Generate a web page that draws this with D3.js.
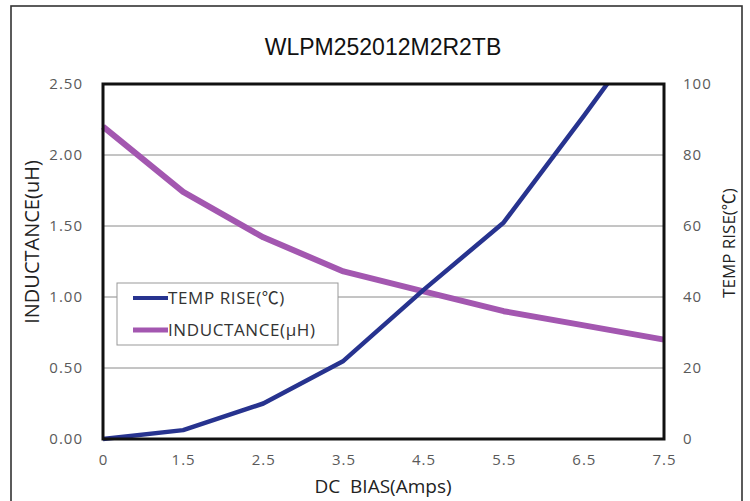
<!DOCTYPE html>
<html>
<head>
<meta charset="utf-8">
<script src="https://cdn.jsdelivr.net/npm/d3@7"></script>
<style>
  html, body { margin: 0; padding: 0; background: #fff; }
  svg { display: block; }
</style>
</head>
<body>
<svg id="chart" width="750" height="501"></svg>
<script>
// DC bias categories (Amps)
const biasLabels = ["0", "1.5", "2.5", "3.5", "4.5", "5.5", "6.5", "7.5"];
// Inductance (uH) at each bias point
const inductance = [2.20, 1.74, 1.42, 1.18, 1.04, 0.90, 0.80, 0.70];
// Temperature rise (°C) at each bias point
const tempRise = [0, 2.5, 10, 22, 42, 61, 91, 122];
// Axis tick values
const leftTicks = [0, 0.5, 1.0, 1.5, 2.0, 2.5];
const rightTicks = [0, 20, 40, 60, 80, 100];

const BODY_FONT = "'Open Sans', 'Noto Sans CJK SC', sans-serif";
const TITLE_FONT = "'Liberation Sans', Arial, sans-serif";

const svg = d3.select("#chart");
const plot = { left: 103, right: 664, top: 84, bottom: 439 };

// Outer frame
svg.append("rect")
  .attr("x", 11).attr("y", 6).attr("width", 731).attr("height", 510)
  .attr("fill", "none").attr("stroke", "#333").attr("stroke-width", 1.6);

// Title
svg.append("text")
  .attr("x", 383).attr("y", 55).attr("text-anchor", "middle")
  .style("font-family", TITLE_FONT).style("font-size", "23px")
  .attr("fill", "#111")
  .text("WLPM252012M2R2TB");

const x = d3.scalePoint().domain(biasLabels).range([plot.left, plot.right]).padding(0);
const yL = d3.scaleLinear().domain([0, 2.5]).range([plot.bottom, plot.top]);
const yR = d3.scaleLinear().domain([0, 100]).range([plot.bottom, plot.top]);

// Horizontal gridlines
svg.append("g")
  .selectAll("line")
  .data(leftTicks.filter(d => d > 0 && d < 2.5))
  .join("line")
  .attr("x1", plot.left).attr("x2", plot.right)
  .attr("y1", d => yL(d)).attr("y2", d => yL(d))
  .attr("stroke", "#8a8a8a").attr("stroke-width", 1);

function styleTicks(g) {
  g.select(".domain").remove();
  g.selectAll("text")
    .attr("fill", "#5a5a5a")
    .style("font-family", BODY_FONT)
    .style("font-size", "15px")
    .style("letter-spacing", "1px");
}

// Left axis
svg.append("g")
  .attr("transform", `translate(${plot.left},0)`)
  .call(d3.axisLeft(yL).tickValues(leftTicks).tickFormat(d3.format(".2f")).tickSize(0).tickPadding(20))
  .call(styleTicks);

// Right axis
svg.append("g")
  .attr("transform", `translate(${plot.right},0)`)
  .call(d3.axisRight(yR).tickValues(rightTicks).tickSize(0).tickPadding(19))
  .call(styleTicks);

// Bottom axis
svg.append("g")
  .attr("transform", `translate(0,${plot.bottom})`)
  .call(d3.axisBottom(x).tickSize(0).tickPadding(15))
  .call(styleTicks);

// Axis titles
svg.append("text")
  .attr("transform", "translate(39,242) rotate(-90)")
  .attr("text-anchor", "middle").attr("fill", "#222")
  .style("font-family", BODY_FONT).style("font-size", "20px")
  .text("INDUCTANCE(uH)");
svg.append("text")
  .attr("transform", "translate(735,243) rotate(-90)")
  .attr("text-anchor", "middle").attr("fill", "#222")
  .style("font-family", BODY_FONT).style("font-size", "17px")
  .text("TEMP RISE(℃)");
svg.append("text")
  .attr("x", 383).attr("y", 493).attr("text-anchor", "middle").attr("fill", "#222")
  .style("font-family", BODY_FONT).style("font-size", "19px")
  .style("white-space", "pre")
  .text("DC  BIAS(Amps)");

// Clip series to plot area
svg.append("clipPath").attr("id", "plot-clip")
  .append("rect")
  .attr("x", plot.left - 4).attr("y", plot.top)
  .attr("width", plot.right - plot.left + 8).attr("height", plot.bottom - plot.top + 4);

const series = svg.append("g").attr("clip-path", "url(#plot-clip)");

series.append("path")
  .datum(inductance)
  .attr("fill", "none").attr("stroke", "#a357b0").attr("stroke-width", 6)
  .attr("stroke-linejoin", "round")
  .attr("d", d3.line().x((d, i) => x(biasLabels[i])).y(d => yL(d)));

series.append("path")
  .datum(tempRise)
  .attr("fill", "none").attr("stroke", "#27338f").attr("stroke-width", 4.5)
  .attr("stroke-linejoin", "round")
  .attr("d", d3.line().x((d, i) => x(biasLabels[i])).y(d => yR(d)));

// Plot frame
svg.append("rect")
  .attr("x", plot.left).attr("y", plot.top)
  .attr("width", plot.right - plot.left).attr("height", plot.bottom - plot.top)
  .attr("fill", "none").attr("stroke", "#111").attr("stroke-width", 3);

// Legend
const legend = svg.append("g");
legend.append("rect")
  .attr("x", 117).attr("y", 283).attr("width", 221).attr("height", 62)
  .attr("fill", "#fff").attr("stroke", "#999").attr("stroke-width", 1);
const legendItems = [
  { name: "TEMP RISE(℃)", color: "#27338f", width: 4, y: 298 },
  { name: "INDUCTANCE(μH)", color: "#a357b0", width: 5, y: 330 }
];
legendItems.forEach(item => {
  legend.append("line")
    .attr("x1", 133).attr("x2", 168).attr("y1", item.y).attr("y2", item.y)
    .attr("stroke", item.color).attr("stroke-width", item.width);
  legend.append("text")
    .attr("x", 168).attr("y", item.y + 6).attr("fill", "#333")
    .style("font-family", BODY_FONT).style("font-size", "17px")
    .style("letter-spacing", "0.6px")
    .text(item.name);
});
</script>
</body>
</html>
